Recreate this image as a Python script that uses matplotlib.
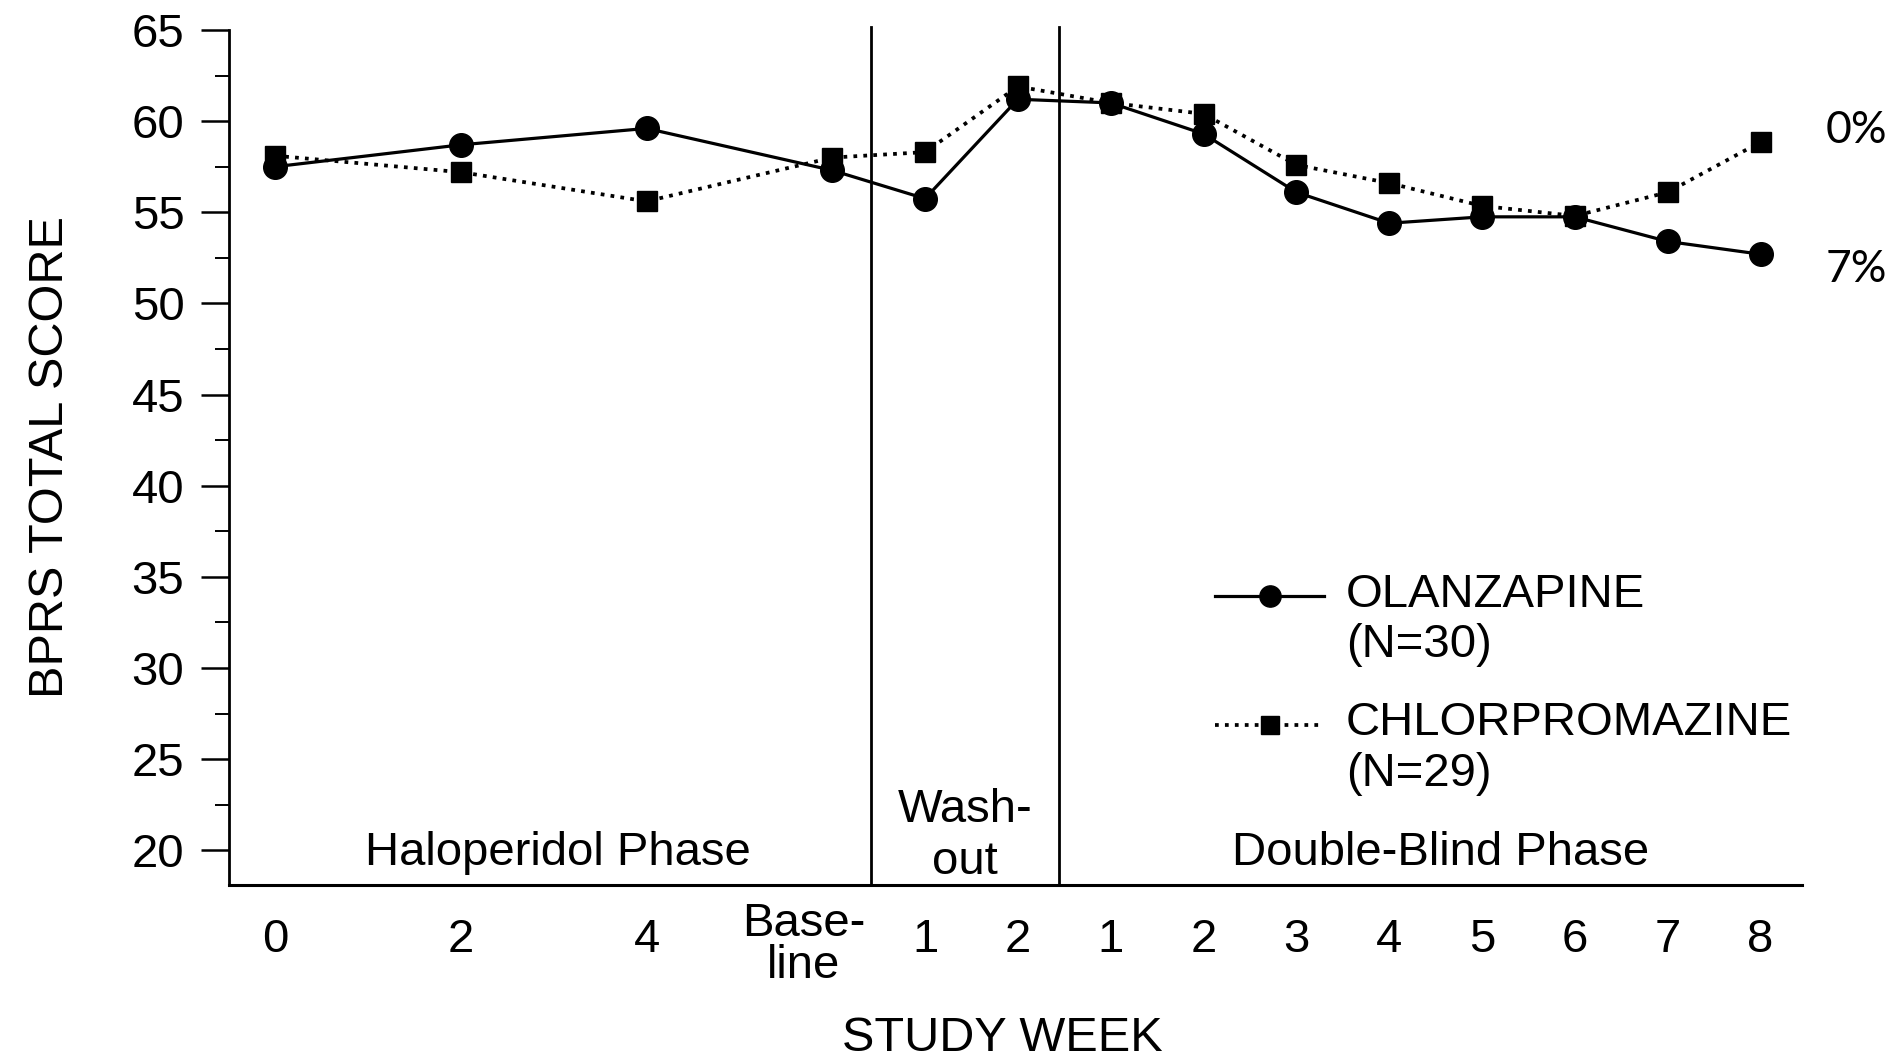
import numpy as np
import matplotlib
matplotlib.use("Agg")
import matplotlib.pyplot as plt
from matplotlib.ticker import MultipleLocator
from matplotlib.legend_handler import HandlerLine2D

plt.rcParams['font.family'] = ['Liberation Sans', 'DejaVu Sans']

# study week axis: haloperidol 0/2/4, baseline, washout 1/2, double-blind 1..8
week_labels = ['0', '2', '4', '', '1', '2', '1', '2', '3', '4', '5', '6', '7', '8']
week_pos = [0, 2, 4, 6, 7, 8, 9, 10, 11, 12, 13, 14, 15, 16]

olanzapine = [57.5, 58.7, 59.6, 57.3, 55.75, 61.2, 61.0, 59.3, 56.1, 54.4, 54.75, 54.75, 53.4, 52.7]
chlorpromazine = [58.1, 57.2, 55.6, 58.0, 58.3, 61.9, 61.0, 60.4, 57.6, 56.6, 55.35, 54.8, 56.1, 58.85]

phase_edges = [6.42, 8.44]
dropout = ['0%', '7%']


class TopLineHandler(HandlerLine2D):
    # put the legend sample level with the first line of a two-line label
    def create_artists(self, legend, orig_handle, xdescent, ydescent, width, height, fontsize, trans):
        return super().create_artists(legend, orig_handle, xdescent, ydescent - 1.05 * fontsize,
                                      width, height, fontsize, trans)


fig = plt.figure(figsize=(18.88, 10.59), dpi=100)
ax = fig.add_axes([0.1212, 0.1643, 0.9546 - 0.1212, 0.9717 - 0.1643])

l1, = ax.plot(week_pos, olanzapine, '-', color='black', lw=2.3, marker='o', ms=17,
              label='OLANZAPINE\n(N=30)', zorder=3)
l2, = ax.plot(week_pos, chlorpromazine, ':', color='black', lw=2.7, marker='s', ms=14,
              label='CHLORPROMAZINE\n(N=29)', zorder=3)

for xe in phase_edges:
    ax.axvline(xe, color='black', lw=2.0, ymax=1.004, clip_on=False)

ax.set_xlim(-0.5, 16.45)
ax.set_ylim(18.1, 65)
ax.spines['top'].set_visible(False)
ax.spines['right'].set_visible(False)
ax.spines['left'].set_linewidth(2.0)
ax.spines['bottom'].set_linewidth(2.2)

ax.yaxis.set_major_locator(MultipleLocator(5))
ax.yaxis.set_minor_locator(MultipleLocator(2.5))
ax.set_yticks(np.arange(20, 66, 5))
ax.tick_params(axis='y', which='major', length=20, width=1.8, labelsize=34, pad=12)
ax.tick_params(axis='y', which='minor', length=10, width=1.4)
ax.set_xticks(week_pos)
ax.set_xticklabels(week_labels, fontsize=34)
ax.tick_params(axis='x', length=0, pad=24)
# baseline label is two lines and sits a little left of its point
ax.text(5.69, -0.02, 'Base-\nline', transform=ax.get_xaxis_transform(), ha='center', va='top',
        fontsize=34, linespacing=0.95)

ax.set_ylabel('BPRS TOTAL SCORE', fontsize=35, labelpad=42)
ax.set_xlabel('STUDY WEEK', fontsize=35)
ax.xaxis.label.set_va('center')
ax.xaxis.set_label_coords(0.4916, -0.179)

ax.text(3.04, 19.85, 'Haloperidol Phase', ha='center', va='center', fontsize=34)
ax.text(7.43, 20.8, 'Wash-\nout', ha='center', va='center', fontsize=34, linespacing=1.25)
ax.text(12.55, 19.85, 'Double-Blind Phase', ha='center', va='center', fontsize=34)

ax.text(16.7, chlorpromazine[-1] + 0.65, dropout[0], ha='left', va='center', fontsize=32,
        family=['Lato', 'DejaVu Sans'], clip_on=False)
ax.text(16.7, olanzapine[-1] - 0.85, dropout[1], ha='left', va='center', fontsize=32,
        family=['Lato', 'DejaVu Sans'], clip_on=False)

leg = ax.legend(loc='upper left', bbox_to_anchor=(0.600, 0.415), frameon=False, fontsize=34,
                handlelength=2.3, labelspacing=0.72, handletextpad=0.46, markerscale=0.9,
                handler_map={l1: TopLineHandler(), l2: TopLineHandler()})
for t in leg.get_texts():
    t.set_linespacing(1.2)

fig.savefig('out.png', dpi=100)
